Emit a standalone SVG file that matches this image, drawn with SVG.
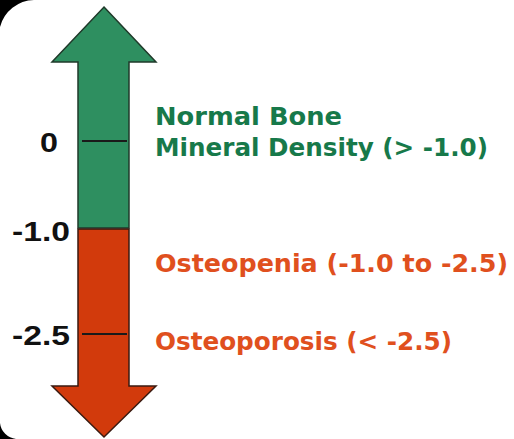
<svg xmlns="http://www.w3.org/2000/svg" width="514" height="439" viewBox="0 0 514 439">
<style>
.lbl{font-family:"Liberation Sans",Arial,sans-serif;font-weight:bold;font-size:27px;fill:#111}
.g{font-family:"DejaVu Sans","Liberation Sans",sans-serif;font-weight:bold;font-size:24px;fill:#17794a}
.r{font-family:"DejaVu Sans","Liberation Sans",sans-serif;font-weight:bold;font-size:24px;fill:#e0501e}
.tick{stroke:#1a1a1a;stroke-width:2}
</style>
<rect width="514" height="439" fill="#ffffff"/>
<path d="M0,0 H34 A36,36 0 0 0 0,27 Z" fill="#000"/>
<path d="M0,439 H16 A18,18 0 0 1 0,423 Z" fill="#000"/>
<g id="arrow-up">
<path d="M104,7 L156,62 H129 V228 H78 V62 H52 Z" fill="#2e8f60" stroke="#1f3a2a" stroke-width="1.5"/>
<line class="tick" x1="82" y1="141" x2="127" y2="141"/>
</g>
<g id="arrow-down">
<path d="M78,229 H129 V386 H156 L104,437 L52,386 H78 Z" fill="#d23a0c" stroke="#3a1a10" stroke-width="1.5"/>
<line class="tick" x1="82" y1="334" x2="127" y2="334"/>
</g>
<g id="scale-labels">
<text class="lbl" x="40" y="152" textLength="18" lengthAdjust="spacingAndGlyphs">0</text>
<text class="lbl" x="12" y="241" textLength="58" lengthAdjust="spacingAndGlyphs">-1.0</text>
<text class="lbl" x="12" y="345" textLength="58" lengthAdjust="spacingAndGlyphs">-2.5</text>
</g>
<g id="normal">
<text class="g" x="155" y="125" textLength="187" lengthAdjust="spacingAndGlyphs">Normal Bone</text>
<text class="g" x="155" y="156" textLength="333" lengthAdjust="spacingAndGlyphs">Mineral Density (&gt; -1.0)</text>
</g>
<g id="osteopenia">
<text class="r" x="155" y="272" textLength="353" lengthAdjust="spacingAndGlyphs">Osteopenia (-1.0 to -2.5)</text>
</g>
<g id="osteoporosis">
<text class="r" x="155" y="350" textLength="297" lengthAdjust="spacingAndGlyphs">Osteoporosis (&lt; -2.5)</text>
</g>
</svg>
